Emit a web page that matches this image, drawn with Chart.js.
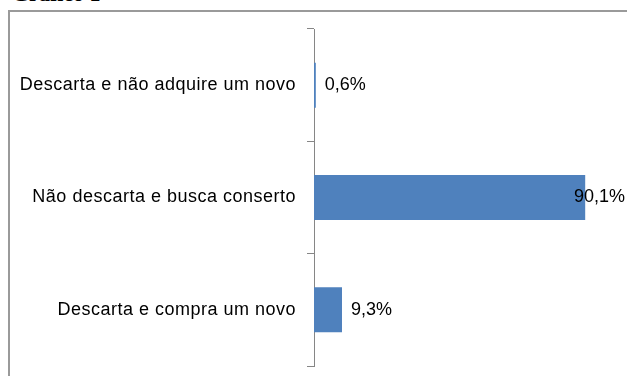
<!DOCTYPE html>
<html>
<head>
<meta charset="utf-8">
<script src="https://cdn.jsdelivr.net/npm/chart.js@4"></script>
<style>
    html, body { margin: 0; padding: 0; background: #fff; overflow: hidden; }
    #wrap { position: relative; width: 627px; height: 376px; }
    #title {
        position: absolute; left: 12px; top: -17px;
        font: bold 22px/22px "Liberation Serif", serif; color: #000;
    }
    #frame {
        position: absolute; left: 8px; top: 10px; width: 640px; height: 400px;
        border: 2px solid #9a9a9a; box-sizing: border-box;
    }
    #chart { position: absolute; left: 0; top: 0; }
</style>
</head>
<body>
<div id="wrap">
    <div id="title">Gráfico 1</div>
    <div id="frame"></div>
    <canvas id="chart" width="627" height="376"></canvas>
</div>
<script>
    // Data
    const categories = ['Descarta e não adquire um novo', 'Não descarta e busca conserto', 'Descarta e compra um novo'];
    const percentages = [0.6, 90.1, 9.3];

    const labelFont = { family: '"Liberation Sans", Arial, sans-serif', size: 18 };

    // Excel text looks a bit spread out
    const spacing = {
        id: 'spacing',
        beforeDraw(chart) { chart.ctx.letterSpacing = '0.5px'; }
    };

    // Value labels next to each bar, kept inside the canvas like Excel does
    const valueLabels = {
        id: 'valueLabels',
        afterDatasetsDraw(chart) {
            const ctx = chart.ctx;
            const meta = chart.getDatasetMeta(0);
            ctx.save();
            ctx.letterSpacing = '0px';
            ctx.font = `${labelFont.size}px ${labelFont.family}`;
            ctx.fillStyle = '#000';
            ctx.textBaseline = 'middle';
            ctx.textAlign = 'left';
            meta.data.forEach((bar, i) => {
                const text = percentages[i].toFixed(1).replace('.', ',') + '%';
                const w = ctx.measureText(text).width;
                let x = bar.x + 9;
                if (x + w > chart.width - 2) x = chart.width - 2 - w;
                ctx.fillText(text, x, bar.y);
            });
            ctx.restore();
        }
    };

    const ctx = document.getElementById('chart').getContext('2d');

    new Chart(ctx, {
        type: 'bar',
        data: {
            labels: categories,
            datasets: [{
                data: percentages,
                backgroundColor: '#4F81BD',
                borderWidth: 0,
                barPercentage: 0.4,
                categoryPercentage: 1.0
            }]
        },
        options: {
            indexAxis: 'y',
            responsive: false,
            animation: false,
            layout: {
                padding: { top: 29, bottom: 10, right: 12, left: 0 }
            },
            plugins: {
                legend: { display: false },
                tooltip: { enabled: false }
            },
            scales: {
                x: {
                    display: false,
                    min: 0,
                    max: 100
                },
                y: {
                    offset: true,
                    afterFit(scale) {
                        scale.width = 314;
                        scale.paddingTop = 0;
                        scale.paddingBottom = 0;
                    },
                    grid: {
                        offset: true,
                        drawOnChartArea: false,
                        tickLength: 7,
                        color: '#868686'
                    },
                    border: { color: '#868686' },
                    ticks: {
                        padding: 11,
                        color: '#000',
                        font: labelFont
                    }
                }
            }
        },
        plugins: [spacing, valueLabels]
    });
</script>
</body>
</html>
